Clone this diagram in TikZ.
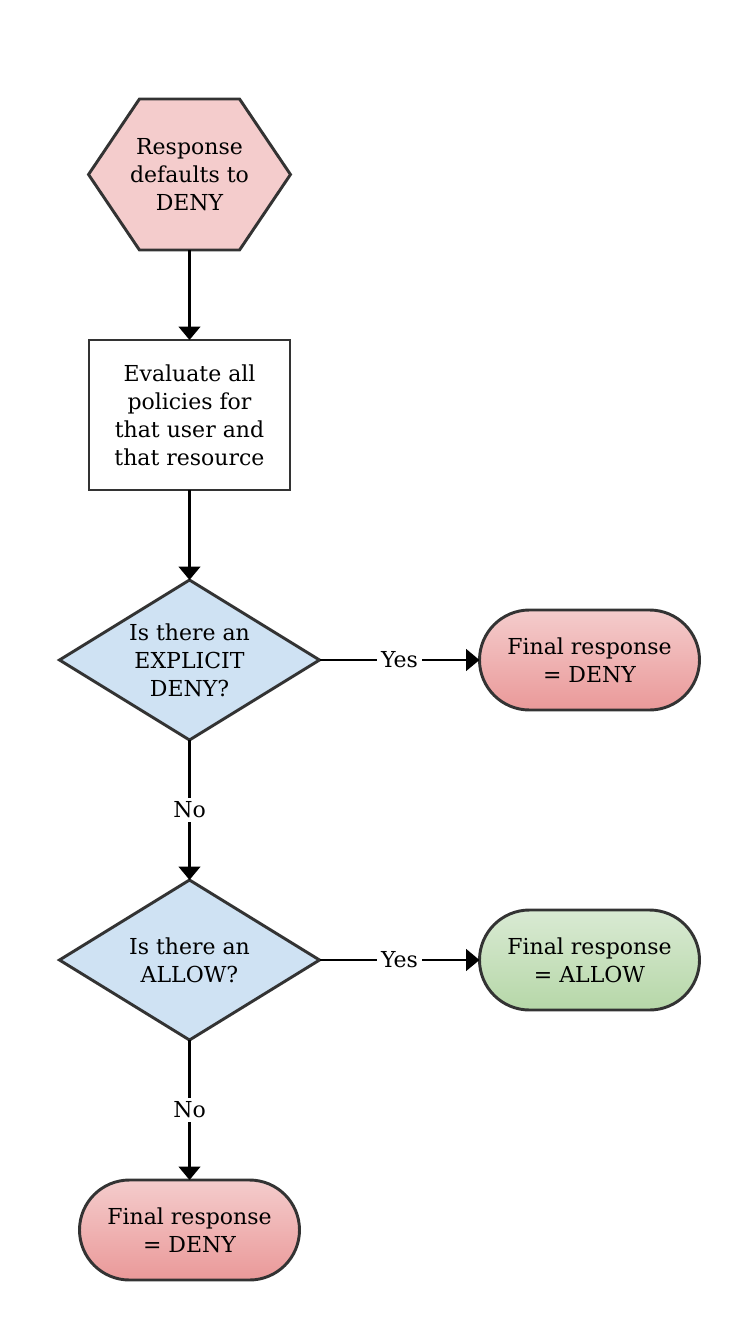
\documentclass[tikz,border=0pt]{standalone}
\usepackage{fontspec}
\setmainfont{DejaVu Serif}
\usetikzlibrary{arrows.meta, positioning, shapes.geometric, shapes.misc, shapes.symbols}

\definecolor{edgegray}{HTML}{333333}
\definecolor{denylight}{HTML}{F4CCCC}
\definecolor{denydark}{HTML}{EA9999}
\definecolor{allowlight}{HTML}{D9EAD3}
\definecolor{allowdark}{HTML}{B6D7A8}
\definecolor{askblue}{HTML}{CFE2F3}

\tikzset{
  base/.style={draw=edgegray, line width=2.2pt, align=center, inner sep=0pt, outer sep=0pt,
    font=\fontsize{16.5pt}{21pt}\selectfont},
  start/.style={base, signal, signal to=east and west, signal pointer angle=112,
    inner xsep=-7pt, fill=denylight, minimum width=150.75pt, minimum height=113.25pt},
  process/.style={base, rectangle, fill=white, minimum width=150.75pt, minimum height=112.5pt},
  decision/.style={base, diamond, shape aspect=1.625, fill=askblue,
    minimum width=195pt, minimum height=120pt},
  deny/.style={base, rounded rectangle, top color=denylight, bottom color=denydark,
    minimum width=165pt, minimum height=75pt},
  allow/.style={deny, top color=allowlight, bottom color=allowdark},
  answer/.style={fill=white, inner sep=3pt, font=\fontsize{16.5pt}{18pt}\selectfont}
}

\begin{document}
\begin{tikzpicture}[x=0.75pt, y=0.75pt, >={Triangle[width=16pt,length=10pt]},
    line width=2.2pt]
    \useasboundingbox (-189.5,174.5) rectangle (561.5,-1145.5);

    % the steps of the evaluation
    \node[start]    (default) {Response\\defaults to\\DENY};
    \node[process]  (evaluate) [below=67.5pt of default] {Evaluate all\\policies for\\that user and\\that resource};
    \node[decision] (explicit) [below=67.5pt of evaluate] {Is there an\\EXPLICIT\\DENY?};
    \node[deny]     (deny1) [right=120pt of explicit] {Final response\\= DENY};
    \node[decision] (allowed) [below=105pt of explicit] {Is there an\\ALLOW?};
    \node[allow]    (allow1) [right=120pt of allowed] {Final response\\= ALLOW};
    \node[deny]     (deny2) [below=105pt of allowed] {Final response\\= DENY};

    % the links
    \path[->] (default) edge (evaluate)
    (evaluate) edge (explicit)
    (explicit) edge node[answer] {Yes} (deny1)
               edge node[answer] {No} (allowed)
    (allowed) edge node[answer] {Yes} (allow1)
              edge node[answer] {No} (deny2);
\end{tikzpicture}
\end{document}
